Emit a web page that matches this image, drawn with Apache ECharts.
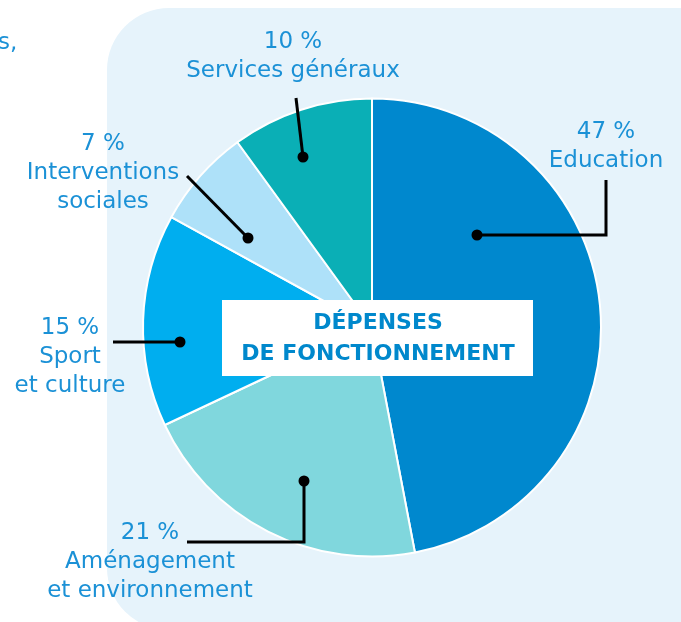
<!DOCTYPE html>
<html>
<head>
<meta charset="utf-8">
<script src="https://cdn.jsdelivr.net/npm/echarts@6/dist/echarts.min.js"></script>
<style>
html,body{margin:0;padding:0;background:#fff;}
#chart{width:681px;height:622px;}
</style>
</head>
<body>
<div id="chart"></div>
<script>
// ---- data ----
const categories = ['Education', 'Aménagement\net environnement', 'Sport\net culture', 'Interventions\nsociales', 'Services généraux'];
const values = [47, 21, 15, 7, 10];
const centerTitle = 'DÉPENSES\nDE FONCTIONNEMENT';

// ---- styles / layout ----
const colors = ['#0088CE', '#80D7DD', '#00AEEF', '#AEE1F9', '#0AAFB6'];
const CX = 372, CY = 327.5, R = 229;
// leader geometry relative to pie center: dot, elbow/end points, label centre
const leaders = [
  {dot:[105,-92.5], pts:[[234,-92.5],[234,-147.5]], lab:[234,-181]},
  {dot:[-68,153.5], pts:[[-68,214.5],[-185,214.5]], lab:[-222,235]},
  {dot:[-192,14.5], pts:[[-259,14.5]], lab:[-302,30]},
  {dot:[-124,-89.5], pts:[[-185,-151.5]], lab:[-269,-154]},
  {dot:[-69,-170.5], pts:[[-76,-229.5]], lab:[-79,-271]}
];
const textColor = '#1B91D6';

const chart = echarts.init(document.getElementById('chart'));
const data = categories.map((c, i) => ({name: c, value: values[i], itemStyle: {color: colors[i]}}));

const leaderGraphics = [];
leaders.forEach(l => {
  const pts = [[CX + l.dot[0], CY + l.dot[1]]].concat(l.pts.map(q => [CX + q[0], CY + q[1]]));
  leaderGraphics.push({type:'polyline', z:100, shape:{points:pts}, style:{stroke:'#000', lineWidth:3, fill:null}});
  leaderGraphics.push({type:'circle', z:101, shape:{cx:CX+l.dot[0], cy:CY+l.dot[1], r:5.5}, style:{fill:'#000'}});
});

const option = {
  animation: false,
  graphic: [
    {type:'rect', z:-10, shape:{x:107, y:8, width:640, height:622, r:[62,0,0,62]}, style:{fill:'#E6F3FB'}},
    {type:'text', z:-9, style:{x:-2, y:43, text:'s,', font:'23px "DejaVu Sans"', fill:textColor, verticalAlign:'middle'}},
    {type:'rect', z:100, shape:{x:222, y:300, width:311, height:76}, style:{fill:'#ffffff'}},
    {type:'text', z:101, style:{x:378, y:339, text:centerTitle, font:'bold 22px "DejaVu Sans"', fill:'#0088CC',
      align:'center', verticalAlign:'middle', lineHeight:31}}
  ].concat(leaderGraphics),
  series: [{
    type: 'pie',
    center: [CX, CY],
    radius: R,
    startAngle: 90,
    clockwise: true,
    avoidLabelOverlap: false,
    itemStyle: {borderColor:'#ffffff', borderWidth:2},
    label: {
      show: true,
      position: 'outer',
      formatter: p => values[p.dataIndex] + ' %\n' + categories[p.dataIndex],
      color: textColor,
      fontFamily: 'DejaVu Sans',
      fontSize: 23,
      lineHeight: 29,
      align: 'center'
    },
    labelLine: {show: false},
    labelLayout: function (p) {
      const l = leaders[p.dataIndex];
      return {x: CX + l.lab[0], y: CY + l.lab[1], align: 'center', verticalAlign: 'middle'};
    },
    data: data
  }]
};
chart.setOption(option);
</script>
</body>
</html>
